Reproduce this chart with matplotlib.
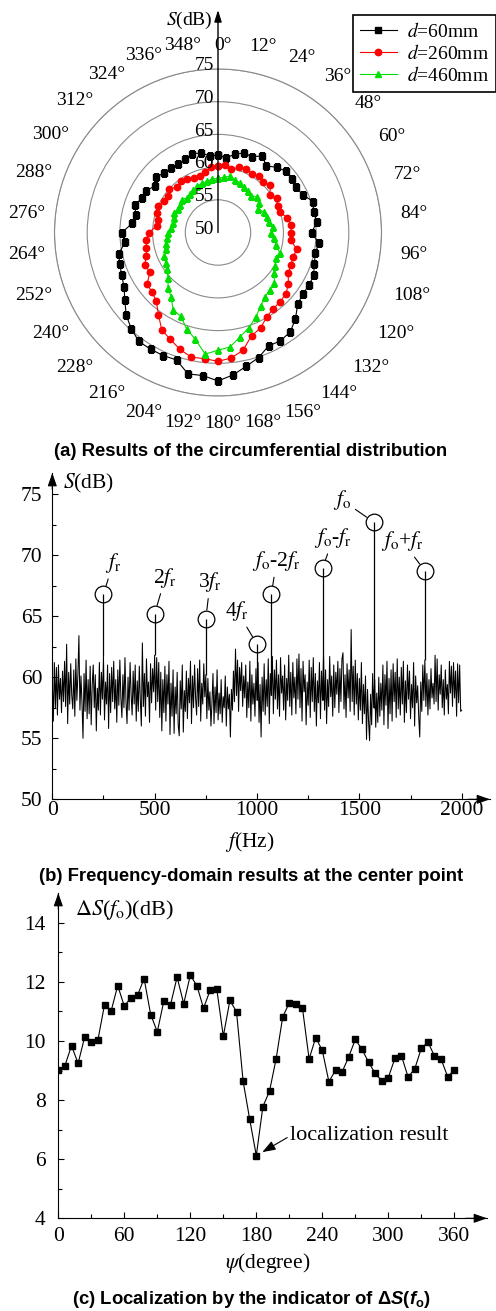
import numpy as np
import matplotlib
matplotlib.use("Agg")
import matplotlib.pyplot as plt
from matplotlib.transforms import offset_copy

plt.rcParams["font.family"] = ["Liberation Serif", "DejaVu Serif"]
plt.rcParams["mathtext.fontset"] = "stix"
# used only by the bold sans captions (math_fontfamily="custom")
plt.rcParams["mathtext.rm"] = "Liberation Sans:bold"
plt.rcParams["mathtext.it"] = "Liberation Sans:italic:bold"
plt.rcParams["mathtext.bf"] = "Liberation Sans:bold"

W, H = 496, 1311

# ---- (a) circumferential distribution, one value every 6 degrees ----
theta_deg = np.arange(0, 360, 6)
s_d60 = [61.8, 61.5, 62.2, 62.8, 62.7, 63.5, 62.6, 63.4, 64.0, 64.0,
         63.8, 64.2, 65.3, 65.0, 65.2, 64.3, 65.5, 65.2, 65.5, 66.0,
         66.1, 66.0, 66.4, 67.7, 68.8, 69.1, 69.0, 70.1, 70.9, 71.9,
         72.7, 72.0, 72.1, 70.5, 70.6, 70.6, 70.6, 69.8, 68.9, 67.6,
         66.6, 66.1, 65.8, 65.5, 64.3, 64.7, 63.2, 62.8, 63.4, 62.8,
         62.8, 62.0, 62.7, 62.3, 62.2, 62.1, 62.3, 62.7, 62.4, 61.8]
s_d260 = [60.2, 60.4, 59.9, 60.5, 60.7, 60.3, 60.6, 60.3, 60.8, 59.8,
          60.4, 60.1, 60.0, 60.8, 61.2, 61.2, 61.2, 62.3, 62.1, 62.2,
          62.4, 63.3, 64.0, 64.2, 64.4, 64.9, 66.0, 66.6, 68.4, 69.3,
          69.7, 69.4, 69.5, 68.8, 67.9, 67.2, 65.5, 64.1, 63.6, 63.4,
          62.0, 62.3, 61.5, 61.2, 61.0, 60.6, 59.4, 59.4, 59.8, 60.0,
          59.6, 59.4, 60.0, 59.3, 59.7, 59.4, 59.2, 59.1, 59.5, 60.0]
s_d460 = [58.3, 58.5, 58.8, 58.4, 58.3, 58.1, 57.9, 57.6, 58.1, 57.8,
          57.1, 57.7, 57.9, 58.0, 58.4, 58.1, 58.6, 59.1, 59.9, 59.7,
          60.1, 60.6, 61.6, 61.8, 62.2, 63.0, 64.2, 65.3, 66.3, 67.6,
          68.0, 68.7, 66.7, 65.5, 64.0, 63.7, 62.2, 61.4, 60.3, 59.6,
          59.2, 59.0, 58.4, 58.2, 57.9, 57.6, 57.2, 57.1, 57.1, 57.4,
          57.1, 57.2, 57.5, 57.1, 57.2, 57.5, 57.8, 57.9, 58.0, 58.2]
series_labels = ["$d$=60mm", "$d$=260mm", "$d$=460mm"]
theta_ticks = list(range(0, 360, 12))
r_ticks = [50, 55, 60, 65, 70, 75]

# ---- (b) spectrum at the center point, 5 Hz spacing ----
freq = np.arange(0, 2001, 5)
noise = [
    59.6, 56.4, 61.2, 57.5, 60.8, 56.9, 61.0, 58.2, 59.9, 57.1, 60.5, 58.0, 61.3, 57.6, 62.7, 56.2, 60.4, 57.8, 61.1, 58.5,
    57.4, 60.6, 56.8, 61.5, 58.1, 60.2, 63.4, 57.3, 60.1, 57.9, 55.0, 60.3, 57.2, 61.4, 56.6, 59.8, 57.0, 60.9, 56.1, 59.4,
    61.0, 57.5, 60.2, 55.6, 59.1, 57.3, 61.2, 56.9, 60.4, 58.2, 61.7, 56.5, 59.6, 57.8, 61.0, 55.8, 60.3, 57.1, 60.8, 58.0,
    61.3, 57.4, 59.8, 56.3, 60.6, 57.7, 61.4, 58.3, 56.7, 60.2, 57.5, 61.6, 58.0, 56.2, 60.0, 57.3, 61.2, 58.6, 56.9, 60.5,
    57.8, 61.0, 56.4, 59.7, 57.2, 60.9, 58.1, 56.0, 62.8, 57.6, 60.3, 56.8, 61.5, 58.4, 59.6, 56.3, 61.1, 57.9, 60.7, 58.8,
    61.8, 57.3, 61.6, 58.0, 61.2, 56.7, 60.4, 55.6, 59.8, 57.1, 60.9, 56.4, 60.2, 57.8, 61.3, 55.3, 59.5, 56.8, 60.6, 55.4,
    59.2, 57.0, 60.4, 56.1, 55.2, 59.7, 57.4, 61.0, 55.5, 58.9, 57.2, 60.5, 56.6, 59.9, 57.9, 61.3, 56.2, 60.1, 57.5, 61.0,
    58.3, 56.9, 60.7, 57.6, 61.4, 56.4, 59.5, 57.8, 61.1, 58.4, 60.2, 56.6, 59.9, 57.3, 58.8, 56.0, 57.9, 60.3, 56.2, 59.2,
    57.1, 60.6, 56.5, 58.7, 57.0, 59.8, 56.3, 58.4, 57.5, 60.1, 56.0, 59.2, 57.4, 58.6, 55.1, 59.0, 57.3, 60.5, 58.0, 62.3,
    58.5, 61.4, 57.2, 60.8, 58.9, 61.2, 57.6, 60.1, 58.3, 61.0, 56.7, 59.6, 57.5, 61.3, 56.4, 60.2, 57.8, 59.5, 56.8, 60.7,
    58.1, 61.2, 56.3, 59.4, 55.1, 60.0, 57.2, 61.1, 56.9, 59.8, 57.6, 61.5, 56.2, 60.3, 58.5, 61.7, 57.0, 60.6, 58.2, 61.4,
    57.4, 60.2, 56.8, 61.6, 58.7, 60.1, 57.3, 61.0, 56.5, 59.9, 58.1, 61.8, 57.6, 60.4, 56.9, 61.2, 58.3, 60.0, 57.0, 61.5,
    58.2, 61.9, 57.5, 60.7, 56.4, 61.3, 58.8, 60.2, 56.1, 59.6, 57.7, 61.4, 56.7, 60.8, 58.0, 61.6, 57.2, 60.3, 56.0, 59.7,
    57.9, 61.2, 56.6, 60.5, 58.1, 61.8, 57.3, 60.6, 56.2, 59.8, 57.6, 61.7, 58.4, 60.1, 56.8, 61.0, 57.5, 60.4, 58.6, 61.3,
    57.1, 60.7, 58.0, 61.5, 62.0, 57.4, 60.2, 56.7, 61.1, 58.3, 60.6, 57.2, 63.9, 58.0, 60.9, 56.9, 61.4, 57.8, 60.3, 56.5,
    59.9, 57.3, 61.2, 56.2, 59.4, 57.0, 60.1, 54.9, 59.0, 56.4, 54.8, 58.6, 56.1, 60.3, 57.5, 59.8, 55.9, 58.7, 56.3, 60.0,
    56.8, 59.5, 57.3, 61.0, 56.1, 60.2, 57.7, 61.3, 55.8, 59.9, 57.0, 60.6, 56.4, 61.1, 58.0, 60.4, 56.7, 61.5, 57.4, 60.0,
    56.9, 60.8, 57.8, 61.3, 56.3, 59.7, 57.1, 61.0, 58.2, 60.5, 56.6, 59.4, 57.5, 61.2, 56.0, 60.1, 57.9, 59.3, 56.8, 55.1,
    59.6, 57.2, 61.0, 58.1, 61.4, 57.6, 60.3, 56.9, 59.8, 57.4, 60.7, 58.3, 59.5, 57.8, 61.8, 58.0, 61.5, 57.3, 60.2, 58.6,
    61.0, 57.5, 59.8, 56.9, 60.6, 58.2, 59.4, 57.0, 61.3, 58.7, 60.9, 57.6, 61.2, 58.3, 60.5, 56.8, 61.1, 57.9, 61.0, 57.2,
    57.3,
]
peak_freq = [250, 500, 750, 1000, 1070, 1320, 1570, 1820]
peak_level = [66.8, 65.2, 64.8, 62.7, 66.8, 68.9, 72.7, 68.7]
peak_labels = [r"$f_{\rm r}$", r"2$f_{\rm r}$", r"3$f_{\rm r}$", r"4$f_{\rm r}$",
               r"$f_{\rm o}$-2$f_{\rm r}$", r"$f_{\rm o}$-$f_{\rm r}$",
               r"$f_{\rm o}$", r"$f_{\rm o}$+$f_{\rm r}$"]

# ---- (c) Delta S(fo) against the scan angle psi ----
psi = np.arange(0, 361, 6)
delta_s = [9.02, 9.16, 9.84, 9.24, 10.14, 9.95, 10.03, 11.22, 11.01, 11.87,
           11.18, 11.46, 11.54, 12.11, 10.89, 10.31, 11.36, 11.22, 12.16, 11.26,
           12.22, 11.87, 11.11, 11.71, 11.77, 10.16, 11.37, 10.99, 8.64, 7.35,
           6.12, 7.78, 8.30, 9.39, 10.81, 11.29, 11.24, 11.10, 9.39, 10.11,
           9.68, 8.62, 9.01, 8.95, 9.46, 10.05, 9.72, 9.29, 8.90, 8.66,
           8.76, 9.41, 9.49, 8.78, 9.05, 9.75, 9.96, 9.49, 9.38, 8.79,
           9.02]
psi_min = 180
delta_min = 6.12


def px_axes(x0, y0, x1, y1, **kw):
    """Add axes from pixel box (left, top, right, bottom)."""
    return fig.add_axes([x0 / W, 1 - y1 / H, (x1 - x0) / W, (y1 - y0) / H], **kw)


def axis_arrows(ax, lw=0.8):
    kw = dict(arrowstyle="-|>,head_length=0.8,head_width=0.28", color="k",
              lw=lw, shrinkA=0, shrinkB=0)
    ax.annotate("", xy=(1, 0), xytext=(0.95, 0), xycoords="axes fraction", arrowprops=kw)
    ax.annotate("", xy=(0, 1), xytext=(0, 0.95), xycoords="axes fraction", arrowprops=kw)


def caption(y, text, **kw):
    fig.text(251 / W, 1 - y / H, text, ha="center", va="center",
             family="Liberation Sans", weight="bold", fontsize=13.3, **kw)


fig = plt.figure(figsize=(W / 100, H / 100), dpi=100)

# ================= (a) polar =================
cx, cy, R = 218.0, 232.5, 163.5
ax_a = px_axes(cx - R, cy - R, cx + R, cy + R, projection="polar")
ax_a.set_theta_zero_location("N")
ax_a.set_theta_direction(-1)
ax_a.set_rlim(50, 75)
ax_a.set_yticks(r_ticks[1:])
ax_a.set_yticklabels([])
ax_a.set_xticks(np.deg2rad(theta_ticks))
ax_a.set_xticklabels([])
ax_a.tick_params(length=0)
ax_a.xaxis.grid(False)
ax_a.yaxis.grid(True, color="#8a8a8a", lw=0.8)
ax_a.spines["polar"].set_color("#8a8a8a")
ax_a.spines["polar"].set_linewidth(0.8)

styles = [dict(color="k", marker="s", ms=4.0),
          dict(color="#ff0000", marker="o", ms=4.6),
          dict(color="#00e000", marker="^", ms=5.0)]
handles = []
for vals, st in zip([s_d60, s_d260, s_d460], styles):
    th = np.deg2rad(np.append(theta_deg, 360))
    rr = np.append(vals, vals[0])
    h, = ax_a.plot(th, rr, lw=0.8, **st)
    handles.append(h)

# angle labels around the rim
for a in theta_ticks:
    t = np.deg2rad(a)
    s, c = np.sin(t), np.cos(t)
    w = 9.7 * len(str(a)) + 7.8
    d = 14 + 5 * abs(c) + abs(s) * w / 2 + abs(c) * 6.5
    tr = offset_copy(ax_a.transData, fig=fig, x=(d * s + 5) * 0.72,
                     y=(d * c - 1.5) * 0.72, units="points")
    ax_a.text(t, 75, f"{a}°", transform=tr, ha="center", va="center", fontsize=14)

# radial scale along the vertical axis
tr_r = offset_copy(ax_a.transData, fig=fig, x=-3.0, y=-0.8, units="points")
for r in r_ticks:
    ax_a.text(0, r, str(r), transform=tr_r, ha="right", va="baseline", fontsize=14)

ax_a.annotate("", xy=(0.5, 0.5 + (cy - 10) / (2 * R)), xytext=(0.5, 0.5),
              xycoords="axes fraction",
              arrowprops=dict(arrowstyle="-|>,head_length=0.7,head_width=0.22",
                              color="k", lw=1.0, shrinkA=0, shrinkB=0), zorder=6)
fig.text(213 / W, 1 - 20 / H, "$S$(dB)", ha="right", va="center", fontsize=14)

leg = fig.legend(handles, series_labels, loc="upper right",
                 bbox_to_anchor=(495.5 / W, 1 - 15.5 / H), fontsize=14,
                 frameon=True, fancybox=False, edgecolor="k", framealpha=1,
                 handlelength=1.9, handletextpad=0.5, labelspacing=0.15,
                 borderpad=0.35, borderaxespad=0)
leg.get_frame().set_linewidth(1.2)

caption(452, "(a) Results of the circumferential distribution")

# ================= (b) spectrum =================
x0b, x1b, y0b, y1b = 52.3, 490.0, 473.0, 799.3
ax_b = px_axes(x0b, y0b, x1b, y1b)
ax_b.plot(freq, noise, color="k", lw=0.75)
base = np.interp(peak_freq, freq, noise)
ax_b.vlines(peak_freq, base, peak_level, color="k", lw=0.9)
ax_b.plot(peak_freq, peak_level, "o", ms=12, mfc="none", mec="k", mew=0.9)
label_offsets = [(7, 22.5), (7.7, 26), (3.1, 26), (-14.2, 23.8),
                 (3.8, 23.8), (7.7, 22.1), (-22.5, 15.6), (-16, 21.4)]
for f, lv, lab, off in zip(peak_freq, peak_level, peak_labels, label_offsets):
    ax_b.annotate(lab, xy=(f, lv), xytext=off, textcoords="offset points",
                  ha="center", va="center", fontsize=15.5,
                  arrowprops=dict(arrowstyle="-", color="k", lw=0.8,
                                  shrinkA=1, shrinkB=6.2))

ax_b.set_xlim(0, 2000 * (x1b - x0b) / 409.4)
ax_b.set_ylim(50, 50 + 25 * (y1b - y0b) / 305.3)
ax_b.set_xticks([0, 500, 1000, 1500, 2000])
ax_b.set_xticks([250, 750, 1250, 1750], minor=True)
ax_b.set_yticks([50, 55, 60, 65, 70, 75])
ax_b.set_yticks([52.5, 57.5, 62.5, 67.5, 72.5], minor=True)
for sp in ["top", "right"]:
    ax_b.spines[sp].set_visible(False)
for sp in ["left", "bottom"]:
    ax_b.spines[sp].set_linewidth(0.8)
ax_b.tick_params(which="both", direction="in", width=0.8, labelsize=15.5)
ax_b.tick_params(which="major", length=4)
ax_b.tick_params(which="minor", length=3)
ax_b.tick_params(axis="x", pad=1)
ax_b.tick_params(axis="y", pad=7)
axis_arrows(ax_b)
ax_b.text((63 - x0b) / (x1b - x0b), (y1b - 483) / (y1b - y0b), "$S$(dB)",
          transform=ax_b.transAxes, ha="left", va="center", fontsize=15.5)
fig.text(250 / W, 1 - 842 / H, "$f$(Hz)", ha="center", va="center", fontsize=15.5)
caption(876.7, "(b) Frequency-domain results at the center point")

# ================= (c) localization =================
x0c, x1c, y0c, y1c = 58.3, 487.0, 893.0, 1218.3
ax_c = px_axes(x0c, y0c, x1c, y1c)
ax_c.plot(psi, delta_s, color="k", lw=0.8, marker="s", ms=4.0)
ax_c.set_xlim(0, 360 * (x1c - x0c) / 396.0)
ax_c.set_ylim(4, 4 + 10 * (y1c - y0c) / 295.6)
ax_c.set_xticks(range(0, 361, 60))
ax_c.set_xticks(range(30, 360, 60), minor=True)
ax_c.set_yticks(range(4, 15, 2))
ax_c.set_yticks(range(5, 14, 2), minor=True)
for sp in ["top", "right"]:
    ax_c.spines[sp].set_visible(False)
for sp in ["left", "bottom"]:
    ax_c.spines[sp].set_linewidth(0.8)
ax_c.tick_params(which="both", direction="in", width=0.8, labelsize=15.5)
ax_c.tick_params(which="major", length=4)
ax_c.tick_params(which="minor", length=3)
ax_c.tick_params(axis="x", pad=6)
ax_c.tick_params(axis="y", pad=9)
axis_arrows(ax_c)
ax_c.annotate("localization result", xy=(psi_min, delta_min),
              xytext=((290 - x0c) / 1.1, 4 + (y1c - 1135) / 29.56),
              ha="left", va="center", fontsize=16,
              arrowprops=dict(arrowstyle="-|>,head_length=0.5,head_width=0.18",
                              color="k", lw=0.8, shrinkA=0, shrinkB=5,
                              relpos=(0, 0.45)))
ax_c.text((75 - x0c) / (x1c - x0c), (y1c - 910) / (y1c - y0c),
          r"$\Delta S$($f_{\rm o}$)(dB)", transform=ax_c.transAxes,
          ha="left", va="center", fontsize=16)
fig.text(267.5 / W, 1 - 1263 / H, r"$\psi$(degree)", ha="center", va="center",
         fontsize=15.5)
caption(1300, r"(c) Localization by the indicator of Δ$S$($f_{\rm o}$)",
        math_fontfamily="custom")

fig.savefig("out.png", dpi=100)
